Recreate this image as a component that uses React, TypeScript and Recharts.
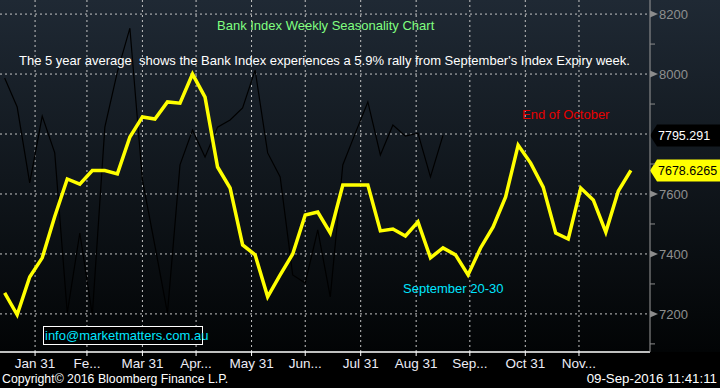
import { LineChart, Line, XAxis, YAxis, CartesianGrid, ReferenceLine } from "recharts";

// day of year (2016) for each weekly observation
const weekDays = [
  14, 21, 28, 35, 42, 49, 56, 63, 70, 77, 84, 91, 98, 105, 112, 119, 126, 133,
  140, 147, 154, 161, 168, 175, 182, 189, 196, 203, 210, 217, 224, 231, 238,
  245, 252, 259, 266, 273, 280, 287, 294, 301, 308, 315, 322, 329, 336, 343,
  350, 357, 364,
];

// 5 year seasonal average (yellow)
const seasonalAvg = [
  7270, 7197, 7323, 7387, 7525, 7650, 7633, 7678, 7678, 7667, 7790, 7857, 7850,
  7907, 7903, 8000, 7923, 7690, 7620, 7430, 7397, 7257, 7330, 7400, 7530, 7540,
  7470, 7630, 7630, 7630, 7477, 7483, 7460, 7507, 7387, 7420, 7397, 7330, 7420,
  7490, 7590, 7763, 7703, 7623, 7470, 7450, 7620, 7580, 7473, 7610, 7678.6265,
];

// current year index (black), up to 09-Sep
const currentYear = [
  7987, 7890, 7637, 7860, 7737, 7203, 7470, 7197, 7823, 8007, 8153, 7647, 7427,
  7203, 7697, 7813, 7723, 7823, 7847, 7887, 8013, 7737, 7657, 7330, 7303, 7480,
  7257, 7697, 7803, 7907, 7730, 7830, 7793, 7803, 7657, 7795.291,
];

const monthTicks = [31, 60, 91, 121, 152, 182, 213, 244, 274, 305, 335];
const monthLabels = ["Jan 31", "Fe...", "Mar 31", "Apr...", "May 31", "Jun...", "Jul 31", "Aug 31", "Sep...", "Oct 31", "Nov..."];

const priceTicks = [7100, 7200, 7300, 7400, 7500, 7600, 7700, 7800, 7900, 8000, 8100, 8200];
const labelledPrices = [7200, 7400, 7600, 8000, 8200];
const gridPrices = [7200, 7400, 7600, 7800, 8000, 8200];

const data = weekDays.map((day, i) => ({
  day,
  avg: seasonalAvg[i],
  current: i < currentYear.length ? currentYear[i] : null,
}));

const FONT = '"Liberation Sans", Arial, sans-serif';

function PriceTick({ x, y, payload }: any) {
  const v = payload.value;
  if (v === 7800) return <g />;
  if (labelledPrices.includes(v)) {
    return (
      <g>
        <path d={`M${x},${y - 3.5} L${x + 8},${y} L${x},${y + 3.5} Z`} fill="#8c8c8c" />
        <text x={x + 9} y={y} dy="0.36em" fill="#8f8f8f" fontSize={13}>
          {v}
        </text>
      </g>
    );
  }
  return <line x1={x} x2={x + 5} y1={y} y2={y} stroke="#8c8c8c" />;
}

function PriceTag({ viewBox, text, fill, color }: any) {
  const x = viewBox.x + viewBox.width;
  const y = viewBox.y;
  return (
    <g>
      <path
        d={`M${x},${y} L${x + 7},${y - 11} L${x + 70},${y - 11} L${x + 70},${y + 11} L${x + 7},${y + 11} Z`}
        fill={fill}
      />
      <text x={x + 8} y={y} dy="0.36em" fill={color} fontSize={12.5}>
        {text}
      </text>
    </g>
  );
}

function Note({ left, cy, size, color, children }: any) {
  return (
    <div
      style={{
        position: "absolute",
        left,
        top: cy - 9,
        height: 18,
        lineHeight: "18px",
        fontSize: size,
        color,
        whiteSpace: "pre",
      }}
    >
      {children}
    </div>
  );
}

export default function App() {
  return (
    <div
      style={{
        position: "relative",
        width: 720,
        height: 388,
        overflow: "hidden",
        fontFamily: FONT,
        background: "linear-gradient(to bottom, #1f2934 0px, #020405 352px, #000 352px)",
      }}
    >
      <style>{"body{margin:0}"}</style>
      <LineChart width={720} height={388} data={data} margin={{ top: 0, right: 0, bottom: 0, left: 0 }}>
        <CartesianGrid
          stroke="#c4c4c4"
          strokeDasharray="2 3"
          horizontalValues={gridPrices}
          verticalValues={monthTicks}
        />
        <XAxis
          type="number"
          dataKey="day"
          domain={[11.4, 374.7]}
          ticks={monthTicks}
          interval={0}
          height={36}
          axisLine={{ stroke: "#ffffff", strokeWidth: 1.5 }}
          tickLine={{ stroke: "#ffffff" }}
          tickSize={4}
          tick={{ fill: "#ececf6", fontSize: 13.5 }}
          tickFormatter={(v) => monthLabels[monthTicks.indexOf(v)] ?? ""}
        />
        <YAxis
          orientation="right"
          width={70}
          domain={[7073, 8247]}
          ticks={priceTicks}
          interval={0}
          axisLine={{ stroke: "#9a9a9a" }}
          tickLine={false}
          tickSize={0}
          tickMargin={0}
          tick={(props: any) => <PriceTick {...props} />}
        />
        <Line
          type="linear"
          dataKey="current"
          stroke="#000000"
          strokeWidth={1.2}
          dot={false}
          activeDot={false}
          isAnimationActive={false}
        />
        <Line
          type="linear"
          dataKey="avg"
          stroke="#ffff00"
          strokeWidth={3.5}
          dot={false}
          activeDot={false}
          isAnimationActive={false}
        />
        <ReferenceLine
          y={currentYear[currentYear.length - 1]}
          stroke="none"
          label={<PriceTag text="7795.291" fill="#000000" color="#ffffff" />}
        />
        <ReferenceLine
          y={seasonalAvg[seasonalAvg.length - 1]}
          stroke="none"
          label={<PriceTag text="7678.6265" fill="#ffff00" color="#000000" />}
        />
      </LineChart>

      <Note left={217} cy={26} size={13} color="#80ff80">
        Bank Index Weekly Seasonality Chart
      </Note>
      <Note left={19} cy={61} size={13} color="#ffffff">
        The 5 year average  shows the Bank Index experiences a 5.9% rally from September's Index Expiry week.
      </Note>
      <Note left={522} cy={115} size={13} color="#e60000">
        End of October
      </Note>
      <Note left={403} cy={289} size={13} color="#00e6ff">
        September 20-30
      </Note>
      <div
        style={{
          position: "absolute",
          left: 43,
          top: 326,
          width: 157,
          height: 17,
          border: "1px solid #ffffff",
          background: "#000",
          color: "#00e6ff",
          fontSize: 13,
          lineHeight: "17px",
          paddingLeft: 1,
          whiteSpace: "nowrap",
        }}
      >
        info@marketmatters.com.au
      </div>
      <Note left={2} cy={379} size={12.3} color="#ffffff">
        Copyright© 2016 Bloomberg Finance L.P.
      </Note>
      <div
        style={{
          position: "absolute",
          right: 3,
          top: 370,
          height: 18,
          lineHeight: "18px",
          fontSize: 13.3,
          color: "#ffffff",
        }}
      >
        09-Sep-2016 11:41:11
      </div>
    </div>
  );
}
